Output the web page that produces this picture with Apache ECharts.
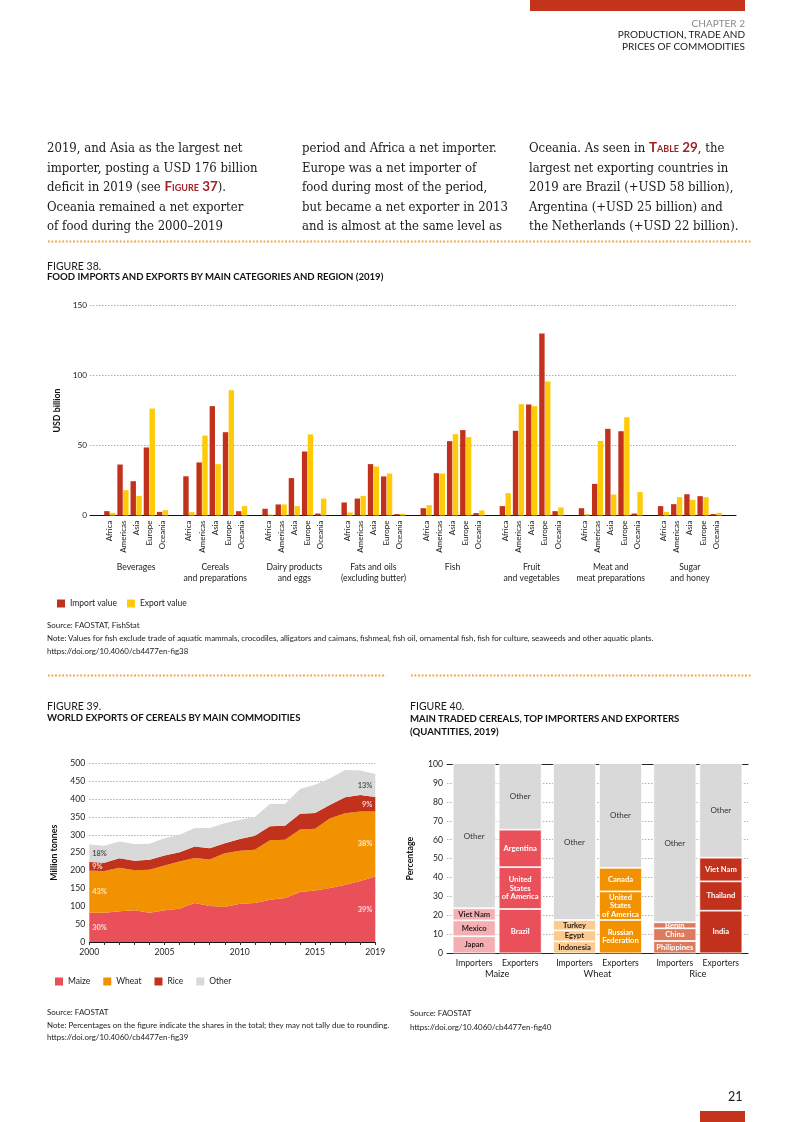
<!DOCTYPE html>
<html><head><meta charset="utf-8">
<script src="https://cdn.jsdelivr.net/npm/echarts@6/dist/echarts.min.js"></script>
<style>
html,body{margin:0;padding:0;background:#fff;}
#page{position:relative;width:793px;height:1122px;overflow:hidden;font-family:Lato,"Noto Sans",sans-serif;color:#1a1a1a;}
#chart{position:absolute;left:0;top:0;width:793px;height:1122px;z-index:0;}
.t{position:absolute;white-space:nowrap;z-index:2;}
.body{font-family:"DejaVu Serif Condensed","DejaVu Serif",serif;font-size:13px;line-height:19.6px;color:#1a1a1a;}
.ref{font-family:Lato,sans-serif;font-weight:700;font-variant:small-caps;color:#9E2226;font-size:13.4px;}
.fig{font-size:10.5px;line-height:12px;color:#1a1a1a;}
.ttl{font-size:9.6px;line-height:12px;font-weight:700;color:#111;}
.src{font-size:7.95px;line-height:13px;color:#222;}
.dots{position:absolute;height:3px;z-index:2;background-image:radial-gradient(circle,#F2A541 0.95px,transparent 1.25px);background-size:3.6px 3px;background-repeat:repeat-x;}
</style></head>
<body><div id="page">
<div id="chart"></div>

<div style="position:absolute;left:530px;top:0;width:215px;height:11px;background:#C4331B;z-index:2"></div>
<div class="t" style="right:48px;top:18px;text-align:right;font-size:10px;line-height:11.3px;">
<span style="color:#8a8a8a">CHAPTER 2</span><br>PRODUCTION, TRADE AND<br>PRICES OF COMMODITIES</div>

<div class="t body" style="left:47px;top:138px;">2019, and Asia as the largest net<br>importer, posting a USD 176 billion<br>deficit in 2019 (see <span class="ref">Figure 37</span>).<br>Oceania remained a net exporter<br>of food during the 2000–2019</div>
<div class="t body" style="left:302px;top:138px;">period and Africa a net importer.<br>Europe was a net importer of<br>food during most of the period,<br>but became a net exporter in 2013<br>and is almost at the same level as</div>
<div class="t body" style="left:529px;top:138px;">Oceania. As seen in <span class="ref">Table 29</span>, the<br>largest net exporting countries in<br>2019 are Brazil (+USD 58 billion),<br>Argentina (+USD 25 billion) and<br>the Netherlands (+USD 22 billion).</div>

<div class="dots" style="left:47px;top:240px;width:704px;"></div>

<div class="t fig" style="left:47px;top:260px;">FIGURE 38.</div>
<div class="t ttl" style="left:47px;top:271px;">FOOD IMPORTS AND EXPORTS BY MAIN CATEGORIES AND REGION (2019)</div>
<div class="t src" style="left:47px;top:619px;">Source: FAOSTAT, FishStat<br>Note: Values for fish exclude trade of aquatic mammals, crocodiles, alligators and caimans, fishmeal, fish oil, ornamental fish, fish for culture, seaweeds and other aquatic plants.<br>https://doi.org/10.4060/cb4477en-fig38</div>

<div class="dots" style="left:47px;top:674px;width:339px;"></div>
<div class="dots" style="left:410px;top:674px;width:341px;"></div>

<div class="t fig" style="left:47px;top:700px;">FIGURE 39.</div>
<div class="t ttl" style="left:47px;top:712px;">WORLD EXPORTS OF CEREALS BY MAIN COMMODITIES</div>
<div class="t src" style="left:47px;top:1006px;line-height:12.5px;">Source: FAOSTAT<br>Note: Percentages on the figure indicate the shares in the total; they may not tally due to rounding.<br>https://doi.org/10.4060/cb4477en-fig39</div>

<div class="t fig" style="left:410px;top:700px;">FIGURE 40.</div>
<div class="t ttl" style="left:410px;top:712px;line-height:13px;">MAIN TRADED CEREALS, TOP IMPORTERS AND EXPORTERS<br>(QUANTITIES, 2019)</div>
<div class="t src" style="left:410px;top:1006px;line-height:14px;">Source: FAOSTAT<br>https://doi.org/10.4060/cb4477en-fig40</div>

<div class="t" style="left:728px;top:1089px;font-size:12.5px;">21</div>
<div style="position:absolute;left:700px;top:1111px;width:45px;height:11px;background:#C4331B;z-index:2"></div>
</div>
<script>
// ---------- Figure 38 data ----------
const regions = ['Africa','Americas','Asia','Europe','Oceania'];
const foodGroups = ['Beverages','Cereals\nand preparations','Dairy products\nand eggs','Fats and oils\n(excluding butter)','Fish','Fruit\nand vegetables','Meat and\nmeat preparations','Sugar\nand honey'];
const importBeverages = [3.1,36.4,24.5,48.6,2.6];
const importCereals   = [28,37.9,78.1,59.5,3.1];
const importDairy     = [4.8,7.9,26.7,45.7,1.4];
const importFats      = [9.3,12.1,36.7,27.9,1.0];
const importFish      = [5.2,30.2,53.1,61,1.7];
const importFruit     = [6.7,60.5,79.3,130,3.1];
const importMeat      = [5.2,22.6,61.9,60.2,1.4];
const importSugar     = [6.7,8.1,15.2,13.8,1.0];
const exportBeverages = [1.9,18.1,14,76.4,3.8];
const exportCereals   = [2.4,57.1,36.7,89.5,6.7];
const exportDairy     = [0.7,7.9,6.7,57.9,12.1];
const exportFats      = [2.1,14,35,30,1.2];
const exportFish      = [7.4,30,58.1,56,3.6];
const exportFruit     = [16,79.5,78.1,95.7,5.7];
const exportMeat      = [1,53.3,15,70.2,16.7];
const exportSugar     = [2.6,13.1,11.2,13.1,1.9];

// ---------- Figure 39 data ----------
const years = ['2000','2001','2002','2003','2004','2005','2006','2007','2008','2009','2010','2011','2012','2013','2014','2015','2016','2017','2018','2019'];
const maize = [82,82,86,89,82,89,93,109,101,98,107,109,118,123,140,144,151,160,171,183];
const wheat = [118,117,122,112,120,125,132,126,130,150,148,149,167,163,175,173,195,200,194,182];
const rice  = [24,23,26,26,28,28,26,32,31,28,33,39,39,39,44,44,38,45,46,41];
const other = [49,47,47,47,45,48,49,52,57,56,54,53,62,61,69,79,74,76,69,64];
const shares2000 = ['30%','43%','9%','18%'];
const shares2019 = ['39%','38%','9%','13%'];

// ---------- Figure 40 data ----------
const cereals40 = ['Maize','Wheat','Rice'];
const importerNames = [['Japan','Mexico','Viet Nam'],['Indonesia','Egypt','Turkey'],['Philippines','China','Benin']];
const importerShares = [[9.0,8.4,6.4],[6.3,5.8,5.5],[6.5,6.7,3.2]];
const importerOther = [76.2,82.4,83.6];
const exporterNames = [['Brazil','United\nStates\nof America','Argentina'],['Russian\nFederation','United\nStates\nof America','Canada'],['India','Thailand','Viet Nam']];
const exporterShares = [[23.4,22.1,19.8],[17.6,15.1,12.5],[22.5,15.5,12.5]];
const exporterOther = [34.7,54.8,49.5];

// ---------- styles ----------
const FONT = 'Lato, "Noto Sans", sans-serif';
const C_IMPORT = '#C2311B', C_EXPORT = '#FFCB08';
const C_MAIZE = '#E9505A', C_WHEAT = '#F39200', C_RICE = '#C2311B', C_OTHER = '#D9D9D9';
const impColors = ['#F4AFB3','#FBCB8F','#DC7B5E'];
const impText = ['#2a1a1a','#2a1a1a','#ffffff'];
const expColors = [C_MAIZE, C_WHEAT, C_RICE];
const TXT = '#222';

// build figure 38 category slots (spacers between groups)
const imports = [importBeverages,importCereals,importDairy,importFats,importFish,importFruit,importMeat,importSugar];
const exports_ = [exportBeverages,exportCereals,exportDairy,exportFats,exportFish,exportFruit,exportMeat,exportSugar];
const cats38 = [''], groupLab = [''], impData = ['-'], expData = ['-'];
imports.forEach((g, gi) => {
  g.forEach((v, ri) => {
    cats38.push(regions[ri]);
    groupLab.push(ri === 2 ? foodGroups[gi] : '');
    impData.push(v); expData.push(exports_[gi][ri]);
  });
  if (gi < imports.length - 1) { cats38.push(''); groupLab.push(''); impData.push('-'); expData.push('-'); }
});
cats38.push(''); groupLab.push(''); impData.push('-'); expData.push('-');

// figure 39 share labels at stack midpoints
const stacks39 = [maize, wheat, rice, other];
function mids(i){ let b = 0; return stacks39.map(s => { const m = b + s[i]/2; b += s[i]; return m; }); }
const m0 = mids(0), m19 = mids(years.length - 1);
const lblColors = ['#fff','#fff','#fff','#333'];
const labelPts = [];
m0.forEach((m, k) => labelPts.push({value:[0, m], label:{position:'right', distance:3, formatter: shares2000[k], color: lblColors[k]}}));
m19.forEach((m, k) => labelPts.push({value:[years.length-1, m], label:{position:'left', distance:3, formatter: shares2019[k], color: lblColors[k]}}));

// figure 40 series
const fig40Series = [];
for (let k = 0; k < 3; k++) {
  fig40Series.push({
    name:'imp'+k, type:'bar', stack:'imp', xAxisIndex:2, yAxisIndex:2, barWidth:43, barGap:'7%',
    data: cereals40.map((c, i) => ({value: importerShares[i][k], itemStyle:{color: impColors[i]}, label:{color: impText[i]}})),
    itemStyle:{borderColor:'#fff', borderWidth:0.8},
    label:{show:true, position:'inside', fontFamily:FONT, fontSize:7.6, fontWeight:'bold', lineHeight:8.5,
      formatter: p => importerNames[p.dataIndex][k]}
  });
}
fig40Series.push({
  name:'impOther', type:'bar', stack:'imp', xAxisIndex:2, yAxisIndex:2, barWidth:43, barGap:'7%',
  data: importerOther, itemStyle:{color:C_OTHER, borderColor:'#fff', borderWidth:0.8},
  label:{show:true, position:'inside', formatter:'Other', color:'#333', fontFamily:FONT, fontSize:8}
});
for (let k = 0; k < 3; k++) {
  fig40Series.push({
    name:'exp'+k, type:'bar', stack:'exp', xAxisIndex:2, yAxisIndex:2, barWidth:43, barGap:'7%',
    data: cereals40.map((c, i) => ({value: exporterShares[i][k], itemStyle:{color: expColors[i]}})),
    itemStyle:{borderColor:'#fff', borderWidth:0.8},
    label:{show:true, position:'inside', color:'#fff', fontFamily:FONT, fontSize:7.6, fontWeight:'bold', lineHeight:8.5,
      formatter: p => exporterNames[p.dataIndex][k]}
  });
}
fig40Series.push({
  name:'expOther', type:'bar', stack:'exp', xAxisIndex:2, yAxisIndex:2, barWidth:43, barGap:'7%',
  data: exporterOther, itemStyle:{color:C_OTHER, borderColor:'#fff', borderWidth:0.8},
  label:{show:true, position:'inside', formatter:'Other', color:'#333', fontFamily:FONT, fontSize:8}
});

const dotted = {show:true, lineStyle:{type:[1.5,1.5], color:'#9a9a9a', width:0.8}};
const chart = echarts.init(document.getElementById('chart'), null, {renderer:'canvas'});
chart.setOption({
  animation:false,
  backgroundColor:'transparent',
  textStyle:{fontFamily:FONT},
  grid:[
    {left:90, right:57, top:305.5, bottom:1122-515.5, containLabel:false, outerBoundsMode:'none'},
    {left:89.3, right:793-375.3, top:763.3, bottom:1122-942, containLabel:false, outerBoundsMode:'none'},
    {left:447, right:45, top:764, bottom:1122-953.3, containLabel:false, outerBoundsMode:'none'}
  ],
  legend:[
    {data:['Import value','Export value'], left:52, top:594, icon:'rect', itemWidth:8, itemHeight:8, itemGap:10,
     textStyle:{fontSize:8.5, color:TXT, fontFamily:FONT}, selectedMode:false},
    {data:['Maize','Wheat','Rice','Other'], left:50, top:972, icon:'rect', itemWidth:8, itemHeight:8, itemGap:13,
     textStyle:{fontSize:8.5, color:TXT, fontFamily:FONT}, selectedMode:false}
  ],
  xAxis:[
    {type:'category', gridIndex:0, data:cats38, axisLine:{lineStyle:{color:'#111', width:1}}, axisTick:{show:false},
     axisLabel:{interval:0, rotate:90, fontSize:8, color:TXT, margin:5, hideOverlap:false, fontFamily:FONT}},
    {type:'category', gridIndex:0, data:groupLab, position:'bottom', offset:46, axisLine:{show:false}, axisTick:{show:false},
     axisLabel:{interval:0, fontSize:8.6, lineHeight:11, color:TXT, margin:0, hideOverlap:false, fontFamily:FONT}},
    {type:'category', gridIndex:2, data:cereals40, axisLine:{lineStyle:{color:'#222', width:1}}, axisTick:{show:false},
     axisLabel:{interval:0, margin:4, color:TXT, fontSize:8.6, lineHeight:11, fontFamily:FONT,
       formatter: v => '{a|Importers}{b|Exporters}\n{c|' + v + '}',
       rich:{a:{width:46, align:'center', fontSize:8.6, fontFamily:FONT, color:TXT},
             b:{width:46, align:'center', fontSize:8.6, fontFamily:FONT, color:TXT},
             c:{fontSize:9.4, fontFamily:FONT, color:TXT}}}},
    {type:'category', gridIndex:2, data:cereals40, position:'top', axisLine:{lineStyle:{color:'#222', width:1}}, axisTick:{show:false}, axisLabel:{show:false}},
    {type:'category', gridIndex:1, data:years, boundaryGap:false, axisLine:{lineStyle:{color:'#111', width:1}},
     axisTick:{show:true, interval:0, length:3, lineStyle:{color:'#333'}},
     axisLabel:{fontSize:8.6, color:TXT, margin:6, fontFamily:FONT, hideOverlap:false,
       interval: i => (i % 5 === 0 || i === years.length - 1)}}
  ],
  yAxis:[
    {type:'value', gridIndex:0, min:0, max:150, interval:50, name:'USD billion', nameLocation:'middle', nameGap:28,
     nameTextStyle:{fontWeight:'bold', fontSize:8.8, color:'#111', fontFamily:FONT},
     axisLine:{show:false}, axisTick:{show:false}, splitLine:dotted,
     axisLabel:{fontSize:8.2, color:TXT, margin:3, fontFamily:FONT}},
    {type:'value', gridIndex:1, min:0, max:500, interval:50, name:'Million tonnes', nameLocation:'middle', nameGap:31,
     nameTextStyle:{fontWeight:'bold', fontSize:8.8, color:'#111', fontFamily:FONT},
     axisLine:{show:false}, axisTick:{show:false}, splitLine:dotted,
     axisLabel:{fontSize:8.6, color:TXT, margin:4, fontFamily:FONT}},
    {type:'value', gridIndex:2, min:0, max:100, interval:10, name:'Percentage', nameLocation:'middle', nameGap:32,
     nameTextStyle:{fontWeight:'bold', fontSize:8.8, color:'#111', fontFamily:FONT},
     axisLine:{show:false}, axisTick:{show:false}, splitLine:dotted,
     axisLabel:{fontSize:8.6, color:TXT, margin:4, fontFamily:FONT}}
  ],
  series:[
    {name:'Import value', type:'bar', xAxisIndex:0, yAxisIndex:0, data:impData, barWidth:5.4, barGap:'8%', itemStyle:{color:C_IMPORT}},
    {name:'Export value', type:'bar', xAxisIndex:0, yAxisIndex:0, data:expData, barWidth:5.4, barGap:'8%', itemStyle:{color:C_EXPORT}},
    {name:'Maize', type:'line', xAxisIndex:4, yAxisIndex:1, stack:'cereal', data:maize, symbol:'none', lineStyle:{width:0}, areaStyle:{color:C_MAIZE, opacity:1}, itemStyle:{color:C_MAIZE}},
    {name:'Wheat', type:'line', xAxisIndex:4, yAxisIndex:1, stack:'cereal', data:wheat, symbol:'none', lineStyle:{width:0}, areaStyle:{color:C_WHEAT, opacity:1}, itemStyle:{color:C_WHEAT}},
    {name:'Rice', type:'line', xAxisIndex:4, yAxisIndex:1, stack:'cereal', data:rice, symbol:'none', lineStyle:{width:0}, areaStyle:{color:C_RICE, opacity:1}, itemStyle:{color:C_RICE}},
    {name:'Other', type:'line', xAxisIndex:4, yAxisIndex:1, stack:'cereal', data:other, symbol:'none', lineStyle:{width:0}, areaStyle:{color:C_OTHER, opacity:1}, itemStyle:{color:C_OTHER}},
    {name:'shareLabels', type:'scatter', xAxisIndex:4, yAxisIndex:1, data:labelPts, symbolSize:0, silent:true, z:5,
     label:{show:true, fontSize:7.4, fontWeight:'bold', fontFamily:FONT}},
    ...fig40Series
  ]
});
</script>
</body></html>
